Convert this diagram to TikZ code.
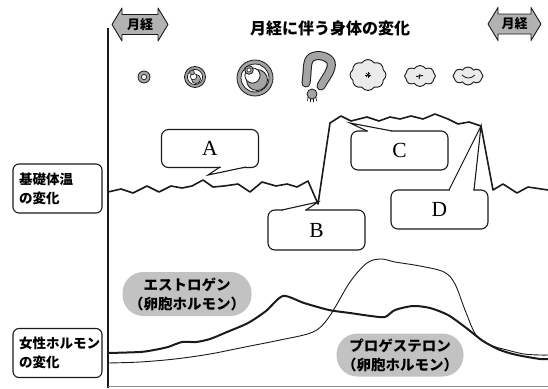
\documentclass[tikz,border=0pt]{standalone}
\usepackage{fontspec}
\setmainfont{Liberation Serif}
\newfontfamily\jp{Noto Sans CJK JP}
\usetikzlibrary{shapes.symbols}
\definecolor{icongray}{HTML}{A4A4A4}
\definecolor{pillgray}{HTML}{C2C2C2}
\definecolor{arrgray}{HTML}{B2B2B2}
\definecolor{cloudfill}{HTML}{EBEBEB}
\definecolor{ink}{HTML}{1A1A1A}
\begin{document}
\begin{tikzpicture}[x=1pt,y=-1pt,
  boxlbl/.style={draw=ink, line width=1.1pt, rounded corners=6pt, fill=white,
    minimum width=89pt, minimum height=49pt, text width=77pt, inner xsep=6pt,
    align=left, font=\jp\bfseries\fontsize{13.5}{19}\selectfont},
  callbox/.style={draw=ink, line width=1.1pt, rounded corners=7pt, fill=white,
    minimum width=97pt, minimum height=38pt, inner sep=0pt,
    font=\fontsize{21.5}{24}\selectfont},
  pill/.style={fill=pillgray, rounded corners=21pt, minimum width=129pt,
    minimum height=44pt, align=center, inner sep=0pt,
    font=\jp\bfseries\fontsize{14.5}{19}\selectfont},
  arrtext/.style={inner sep=0pt, font=\jp\bfseries\fontsize{13}{15}\selectfont},
  arrshape/.style={draw=ink, line width=0.9pt, fill=arrgray, line join=round},
  pointer/.style={draw=ink, line width=1.1pt, line join=miter},
  icon/.style={draw=ink, line width=0.8pt, fill=icongray},
  cloudy/.style={cloud, cloud puffs=8, cloud puff arc=115, draw=ink, line width=0.9pt,
    fill=cloudfill, inner sep=0pt},
  temp/.style={draw=ink, line width=1.6pt, line join=round},
  estro/.style={draw=ink, line width=2pt, line join=round},
  proge/.style={draw=ink, line width=0.9pt, line join=round}
]
\useasboundingbox (0,0) rectangle (548,388);
\fill[white] (0,0) rectangle (548,388);

% axes
\coordinate (axTop) at (108,28);
\coordinate (axBot) at (108,388);
\coordinate (baseL) at (108,386.5);
\coordinate (baseR) at (548,386.5);
\draw[ink, line width=1.4pt] (axTop) -- (axBot);
\draw[black!45, line width=1.4pt] (baseL) -- (baseR);

% title
\node[font=\jp\bfseries\fontsize{16}{18}\selectfont, inner sep=0pt] (title) at (330,28) {月経に伴う身体の変化};

% menstruation arrows
\coordinate (p1) at (140,24.5);
\coordinate (p2) at (514.5,24);
\path[arrshape] ([shift={(-28,0)}]p1) -- ([shift={(-18,-16.5)}]p1) -- ([shift={(-18,-10)}]p1)
  -- ([shift={(18,-10)}]p1) -- ([shift={(18,-16.5)}]p1) -- ([shift={(28,0)}]p1)
  -- ([shift={(18,16.5)}]p1) -- ([shift={(18,10)}]p1) -- ([shift={(-18,10)}]p1)
  -- ([shift={(-18,16.5)}]p1) -- cycle;
\path[arrshape] ([shift={(-26.5,0)}]p2) -- ([shift={(-16.5,-16.5)}]p2) -- ([shift={(-16.5,-10)}]p2)
  -- ([shift={(16.5,-10)}]p2) -- ([shift={(16.5,-16.5)}]p2) -- ([shift={(26.5,0)}]p2)
  -- ([shift={(16.5,16.5)}]p2) -- ([shift={(16.5,10)}]p2) -- ([shift={(-16.5,10)}]p2)
  -- ([shift={(-16.5,16.5)}]p2) -- cycle;
\node[arrtext] (m1) at (p1) {月経};
\node[arrtext] (m2) at (p2) {月経};

% ovary icons
\draw[icon] (144,77) circle (6);
\draw[draw=ink, line width=0.7pt, fill=white] (144,77) circle (2.6);

\draw[icon] (195,77) circle (10.5);
\draw[draw=ink, line width=0.7pt, fill=white] (195,77) circle (7.6);
\draw[icon, line width=0.6pt] (196,79) circle (4.6);
\draw[draw=ink, line width=0.6pt, fill=white] (193.5,76.5) circle (3.2);
\draw[icon, line width=0.6pt] (192,72.5) circle (2.4);

\draw[icon] (255,78) circle (18);
\draw[draw=ink, line width=0.8pt, fill=white] (255,78) circle (14);
\draw[icon] (257,80) circle (10.5);
\draw[draw=ink, line width=0.8pt, fill=white] (252.5,75.5) circle (7.6);
\draw[icon] (249,70) circle (4.3);
\draw[draw=ink, line width=0.6pt, fill=white] (249,70) circle (2);

% corpus luteum shape
\draw[ink, line width=9pt, line cap=round, line join=round]
  (306,83) .. controls (308,70) and (306,60) .. (312,57)
  .. controls (318,54) and (328,56) .. (331,62)
  .. controls (333,70) and (325,78) .. (321,86);
\draw[icongray, line width=7pt, line cap=round, line join=round]
  (306,83) .. controls (308,70) and (306,60) .. (312,57)
  .. controls (318,54) and (328,56) .. (331,62)
  .. controls (333,70) and (325,78) .. (321,86);
\draw[icon] (312,94) circle (5);
\draw[ink, line width=0.6pt] (308,97) -- (307.5,101) (310.5,98.5) -- (310.5,102) (313.5,98.5) -- (313.5,102) (316,97) -- (316.5,101);

% clouds
\node[cloudy, minimum width=36pt, minimum height=31pt] (c1) at (368,75) {};
\node[cloudy, minimum width=31pt, minimum height=21pt] (c2) at (420,76) {};
\node[cloudy, minimum width=30pt, minimum height=18pt] (c3) at (468,76) {};
\foreach \a in {0,45,...,315} \draw[ink, line width=0.7pt] (c1.center) -- ++(\a:2.8);
\draw[ink, line width=1pt] ([shift={(-4,0.5)}]c2.center) -- ([shift={(3,-0.5)}]c2.center);
\draw[ink, line width=1pt] ([shift={(0,-2)}]c2.center) -- ([shift={(-1,3)}]c2.center);
\draw[ink, line width=0.8pt] ([shift={(-6,-1)}]c3.center) .. controls ([shift={(-2,3)}]c3.center) and ([shift={(3,3)}]c3.center) .. ([shift={(7,-1)}]c3.center);

% basal temperature
\draw[temp] plot coordinates {(108,192) (121,189) (133,193) (147,186) (159,192) (171,186) (182,188)
  (192,186) (203,180) (213,187) (224,186) (238,184) (250,192) (262,182) (276,186) (287,184)
  (297,187) (308,181) (318,204) (330,123) (341,116) (351,121) (367,117) (379,121) (390,117)
  (400,119) (411,116) (423,119) (435,114) (448,119) (458,124) (469,122) (481,126) (493,190)
  (503,184) (517,193) (528,187) (548,190)};

% callouts
\node[callbox] (A) at (210,148.5) {A};
\node[callbox, minimum height=40pt] (B) at (316.5,230) {B};
\node[callbox, minimum height=39pt] (C) at (399.5,150.5) {C};
\node[callbox, minimum height=39pt] (D) at (439.5,209.5) {D};

\coordinate (tA) at (208,175);
\fill[white] (221,165.4) -- (221,167.8) -- (tA) -- (245,167.8) -- (245,165.4) -- cycle;
\draw[pointer] (220,167) -- (tA) -- (246,167);

\coordinate (tB) at (318,202);
\fill[white] (283,211.6) -- (283,209.4) -- (tB) -- (305,209.4) -- (305,211.6) -- cycle;
\draw[pointer] (282,210) -- (tB) -- (306,210);

\coordinate (tC) at (350,123);
\fill[white] (368,132.6) -- (368,130.4) -- (tC) -- (391,130.4) -- (391,132.6) -- cycle;
\draw[pointer] (367,131) -- (tC) -- (392,131);

\coordinate (tD) at (481,126);
\fill[white] (450,191.6) -- (450,189.4) -- (tD) -- (473,189.4) -- (473,191.6) -- cycle;
\draw[pointer] (449,190) -- (tD) -- (474,190);

% left labels
\node[boxlbl] (bbt) at (57.5,188.5) {基礎体温\\の変化};
\node[boxlbl] (hor) at (57.5,353) {女性ホルモン\\の変化};

% hormone labels
\node[pill] (est) at (187,294) {エストロゲン\\（卵胞ホルモン）};
\node[pill, minimum width=127pt, minimum height=43pt] (pro) at (400,355) {プロゲステロン\\（卵胞ホルモン）};

% hormone curves
\draw[proge] plot[smooth, tension=0.55] coordinates {(108,363) (140,362) (175,359) (210,354) (245,347)
  (280,340) (313,332) (329,317) (350,282) (367,263) (381,259) (395,262) (420,266) (444,272)
  (455,284) (465,310) (476,335) (490,345) (507,350) (524,354) (540,355) (548,355)};
\draw[estro] plot[smooth, tension=0.45] coordinates {(108,353) (140,352) (154,350) (168,347) (182,342)
  (196,342) (210,339) (227,332) (248,323) (266,311) (283,296) (304,303) (329,310) (350,313)
  (371,316) (385,317) (395,310) (413,306) (430,308) (448,315) (465,327) (483,341) (500,350)
  (517,355) (540,359) (548,359)};
\end{tikzpicture}
\end{document}
